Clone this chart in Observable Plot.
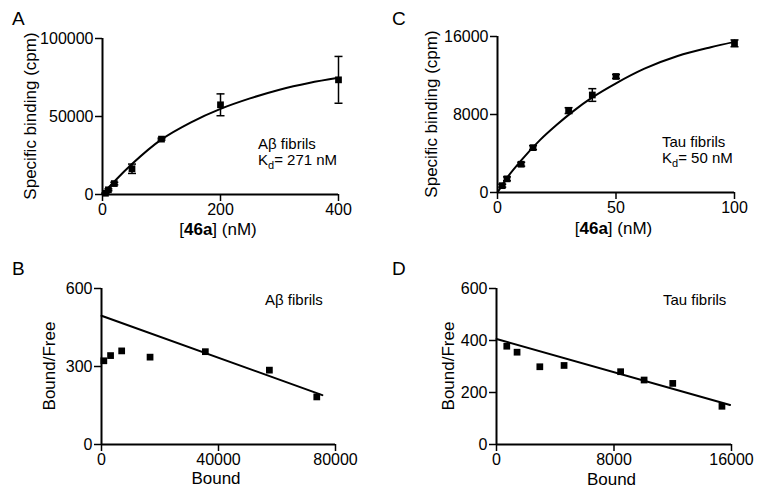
<!DOCTYPE html>
<html><head><meta charset="utf-8">
<script src="https://cdn.jsdelivr.net/npm/d3@7"></script>
<script src="https://cdn.jsdelivr.net/npm/@observablehq/plot@0.6"></script>
<style>
body{margin:0;background:#fff;}
#wrap{position:relative;width:764px;height:497px;background:#fff;font-family:"Liberation Sans",Arial,sans-serif;}
#wrap svg{position:absolute;overflow:visible;}
</style></head><body><div id="wrap"></div>
<script>
// ---- Panel A: saturation binding, Aβ fibrils ----
const aConc = [5, 10, 20, 50, 100, 200, 400];
const aBind = [800, 3000, 7000, 16500, 35500, 57500, 73500];
const aErr  = [300, 600, 800, 3000, 600, 7000, 15000];
const aFitX = [0, 10, 25, 50, 100, 150, 200, 250, 300, 350, 400];
const aFitY = [0, 4300, 10300, 19500, 35300, 46300, 54900, 61600, 67200, 71500, 74800];
const aXTicks = [0, 200, 400];
const aYTicks = [0, 50000, 100000];

// ---- Panel C: saturation binding, Tau fibrils ----
const cConc = [2, 4, 10, 15, 30, 40, 50, 100];
const cBind = [700, 1400, 2900, 4600, 8400, 10000, 11900, 15300];
const cErr  = [150, 200, 200, 200, 300, 650, 200, 350];
const cFitX = [0, 4, 10, 18, 25, 32, 40, 50, 62, 76, 90, 100];
const cFitY = [0, 1500, 3300, 5400, 6950, 8350, 9750, 11200, 12700, 14000, 14900, 15450];
const cXTicks = [0, 50, 100];
const cYTicks = [0, 8000, 16000];

// ---- Panel B: Scatchard, Aβ fibrils ----
const bBound = [800, 3100, 6900, 16600, 35500, 57400, 73600];
const bRatio = [322, 342, 360, 336, 357, 286, 183];
const bLineX = [0, 75500];
const bLineY = [495, 190];
const bXTicks = [0, 40000, 80000];
const bYTicks = [0, 300, 600];

// ---- Panel D: Scatchard, Tau fibrils ----
const dBound = [700, 1400, 2950, 4600, 8450, 10050, 12000, 15350];
const dRatio = [378, 355, 299, 304, 280, 248, 235, 147];
const dLineX = [0, 15900];
const dLineY = [406, 152];
const dXTicks = [0, 8000, 16000];
const dYTicks = [0, 200, 400, 600];

const FONT = "Liberation Sans, Arial, Helvetica, sans-serif";
const cap = {draw(ctx) { ctx.moveTo(-4, 0); ctx.lineTo(4, 0); }};

function errMarks(xs, ys, es) {
  const idx = d3.range(xs.length);
  return [
    Plot.ruleX(idx, {x: i => xs[i], y1: i => ys[i] - es[i], y2: i => ys[i] + es[i], stroke: "black", strokeWidth: 1.5}),
    Plot.dot(idx, {x: i => xs[i], y: i => ys[i] + es[i], symbol: cap, r: 4, fill: "none", stroke: "black", strokeWidth: 1.5}),
    Plot.dot(idx, {x: i => xs[i], y: i => ys[i] - es[i], symbol: cap, r: 4, fill: "none", stroke: "black", strokeWidth: 1.5})
  ];
}
function squares(xs, ys) {
  const idx = d3.range(xs.length);
  return Plot.dot(idx, {x: i => xs[i], y: i => ys[i], symbol: "square", r: 3.8, fill: "black", stroke: "none"});
}
function line(xs, ys, curve) {
  const idx = d3.range(xs.length);
  return Plot.line(idx, {x: i => xs[i], y: i => ys[i], stroke: "black", strokeWidth: 2, curve: curve || "linear"});
}

function panel(o) {
  const p = Plot.plot({
    width: o.w, height: o.h,
    marginLeft: o.ml, marginRight: o.mr, marginTop: o.mt, marginBottom: o.mb,
    x: {domain: o.xd},
    y: {domain: o.yd},
    style: {fontFamily: FONT, fontSize: "16px", color: "black", background: "transparent", overflow: "visible"},
    marks: [
      Plot.axisX({ticks: o.xt, tickFormat: d3.format("d"), tickSize: 7, tickPadding: 2, label: null, strokeWidth: 1.5, fontSize: 16}),
      Plot.axisY({ticks: o.yt, tickFormat: d3.format("d"), tickSize: 7, tickPadding: 2, label: null, strokeWidth: 1.5, fontSize: 16}),
      Plot.ruleX([0], {stroke: "black", strokeWidth: 2}),
      Plot.ruleY([0], {stroke: "black", strokeWidth: 2}),
      ...o.marks
    ]
  });
  p.style.left = o.left + "px";
  p.style.top = o.top + "px";
  const svg = d3.select(p);
  const fx = (o.ml + o.w - o.mr) / 2;
  const fy = (o.mt + o.h - o.mb) / 2;
  // panel letter
  svg.append("text").attr("x", 12).attr("y", 25).attr("text-anchor", "start").attr("font-size", 19)
    .attr("font-family", FONT).attr("fill", "black").text(o.letter);
  // y title
  svg.append("text").attr("transform", `translate(${o.yl},${fy}) rotate(-90)`).attr("text-anchor", "middle")
    .attr("font-size", 17).attr("font-family", FONT).attr("fill", "black").text(o.ytitle);
  // x title
  const xt = svg.append("text").attr("x", fx - 2).attr("y", o.xb).attr("text-anchor", "middle")
    .attr("font-size", 17).attr("font-family", FONT).attr("fill", "black");
  if (o.xbold) {
    xt.append("tspan").text("[");
    xt.append("tspan").attr("font-weight", "bold").text(o.xbold);
    xt.append("tspan").text("] (nM)");
  } else xt.text(o.xtitle);
  // notes
  o.notes.forEach(n => {
    const t = svg.append("text").attr("x", n.x).attr("y", n.y).attr("text-anchor", "start")
      .attr("font-size", 15).attr("font-family", FONT).attr("fill", "black");
    if (n.sub) {
      t.append("tspan").text(n.pre);
      t.append("tspan").attr("font-size", 11).attr("dy", 4).text(n.sub);
      t.append("tspan").attr("dy", -4).text(n.post);
    } else t.text(n.text);
  });
  document.getElementById("wrap").appendChild(p);
}

panel({left: 0, top: 0, w: 380, h: 250, ml: 102, mr: 42, mt: 38, mb: 56,
  xd: [0, 400], yd: [0, 100000], xt: aXTicks, yt: aYTicks, letter: "A",
  ytitle: "Specific binding (cpm)", yl: 36, xbold: "46a", xb: 235,
  marks: [...errMarks(aConc, aBind, aErr), line(aFitX, aFitY, "monotone-x"), squares(aConc, aBind)],
  notes: [{x: 258, y: 149, text: "Aβ fibrils"}, {x: 258, y: 165, pre: "K", sub: "d", post: "= 271 nM"}]});

panel({left: 380, top: 0, w: 384, h: 250, ml: 117, mr: 30, mt: 36, mb: 58,
  xd: [0, 100], yd: [0, 16000], xt: cXTicks, yt: cYTicks, letter: "C",
  ytitle: "Specific binding (cpm)", yl: 57, xbold: "46a", xb: 234,
  marks: [...errMarks(cConc, cBind, cErr), line(cFitX, cFitY, "monotone-x"), squares(cConc, cBind)],
  notes: [{x: 282, y: 147, text: "Tau fibrils"}, {x: 282, y: 163, pre: "K", sub: "d", post: "= 50 nM"}]});

panel({left: 0, top: 250, w: 380, h: 247, ml: 101, mr: 45, mt: 38, mb: 53,
  xd: [0, 80000], yd: [0, 600], xt: bXTicks, yt: bYTicks, letter: "B",
  ytitle: "Bound/Free", yl: 55, xtitle: "Bound", xb: 234,
  marks: [line(bLineX, bLineY), squares(bBound, bRatio)],
  notes: [{x: 265, y: 55, text: "Aβ fibrils"}]});

panel({left: 380, top: 250, w: 384, h: 247, ml: 116, mr: 33, mt: 38, mb: 53,
  xd: [0, 16000], yd: [0, 600], xt: dXTicks, yt: dYTicks, letter: "D",
  ytitle: "Bound/Free", yl: 74, xtitle: "Bound", xb: 235,
  marks: [line(dLineX, dLineY), squares(dBound, dRatio)],
  notes: [{x: 283, y: 55, text: "Tau fibrils"}]});
</script>
</body></html>
